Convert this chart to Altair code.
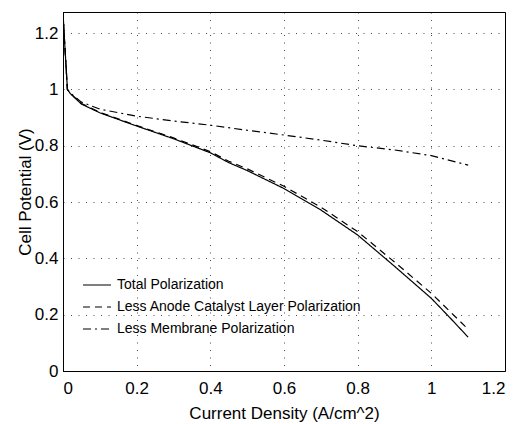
import altair as alt
import pandas as pd

FONT = "Liberation Sans, Arial, sans-serif"

series_names = ["Total Polarization",
                "Less Anode Catalyst Layer Polarization",
                "Less Membrane Polarization"]

x_total = [0.0, 0.003, 0.012, 0.02, 0.05, 0.1, 0.2, 0.3, 0.4, 0.45, 0.5, 0.6, 0.7, 0.8, 0.9, 1.0, 1.05, 1.1]
y_total = [1.275, 1.2, 1.0, 0.985, 0.948, 0.917, 0.870, 0.825, 0.775, 0.740, 0.712, 0.648, 0.572, 0.483, 0.372, 0.258, 0.190, 0.120]

x_anode = [0.0, 0.003, 0.012, 0.02, 0.05, 0.1, 0.2, 0.3, 0.4, 0.45, 0.5, 0.6, 0.7, 0.8, 0.9, 1.0, 1.05, 1.1]
y_anode = [1.275, 1.2, 1.0, 0.986, 0.950, 0.919, 0.872, 0.828, 0.779, 0.745, 0.718, 0.656, 0.582, 0.495, 0.387, 0.276, 0.212, 0.148]

x_memb = [0.0, 0.003, 0.012, 0.02, 0.05, 0.1, 0.2, 0.3, 0.4, 0.5, 0.6, 0.7, 0.8, 0.9, 1.0, 1.1]
y_memb = [1.275, 1.2, 1.0, 0.987, 0.955, 0.930, 0.905, 0.888, 0.873, 0.855, 0.838, 0.820, 0.800, 0.785, 0.765, 0.731]

x_ticks = [0, 0.2, 0.4, 0.6, 0.8, 1.0, 1.2]
y_ticks = [0, 0.2, 0.4, 0.6, 0.8, 1.0, 1.2]

rows = []
for name, xs, ys in zip(series_names, [x_total, x_anode, x_memb], [y_total, y_anode, y_memb]):
    for i, (a, b) in enumerate(zip(xs, ys)):
        rows.append({"series": name, "x": a, "y": b, "order": i})
df = pd.DataFrame(rows)

LBL = "datum.value == 0 ? '0' : datum.value == 1 ? '1' : format(datum.value, '.1f')"

chart = alt.Chart(df).mark_line(color="black", strokeWidth=1.2, clip=True).encode(
    x=alt.X("x:Q", scale=alt.Scale(domain=[0, 1.2], nice=False, zero=False),
            axis=alt.Axis(values=x_ticks, title="Current Density (A/cm^2)", labelExpr=LBL,
                          titleY=47, titleBaseline="alphabetic")),
    y=alt.Y("y:Q", scale=alt.Scale(domain=[0, 1.275], nice=False, zero=False),
            axis=alt.Axis(values=y_ticks, title="Cell Potential (V)", labelExpr=LBL,
                          titleX=-33, titleY=179.5, titleBaseline="alphabetic")),
    strokeDash=alt.StrokeDash("series:N",
                              scale=alt.Scale(domain=series_names,
                                              range=[[1, 0], [7, 5], [8, 4, 2, 4]]),
                              legend=alt.Legend(title=None, orient="none", legendX=19, legendY=258,
                                                symbolType="stroke", symbolSize=784,
                                                symbolStrokeColor="black", symbolStrokeWidth=1.2,
                                                labelFont=FONT, labelFontSize=14, labelColor="black",
                                                labelOffset=5, rowPadding=-2.5, padding=0,
                                                labelLimit=0)),
    order="order:Q",
    detail="series:N",
).properties(
    width=442, height=359,
    autosize=alt.AutoSizeParams(type="none"),
    padding={"left": 63, "top": 12, "right": 18, "bottom": 53},
    background="white",
).configure_view(
    stroke="black", strokeWidth=1
).configure_axis(
    labelFont=FONT, labelFontSize=17, labelColor="black",
    titleFont=FONT, titleFontSize=17, titleColor="black", titleFontWeight="normal",
    domainColor="black", domainWidth=1,
    ticks=False,
    grid=True, gridColor="black", gridDash=[1, 6.5], gridOpacity=0.7, gridWidth=1,
).configure_axisX(
    labelPadding=9
).configure_axisY(
    labelPadding=5
)

chart.save("out.html", embed_options={"renderer": "svg", "actions": False})
